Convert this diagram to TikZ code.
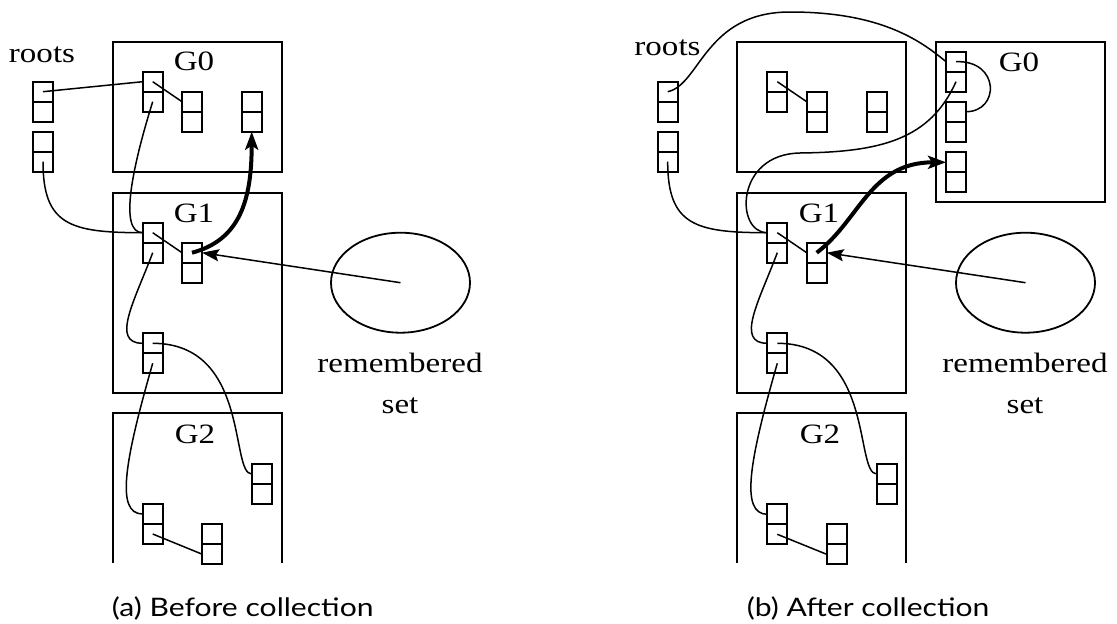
\documentclass[tikz,border=0pt]{standalone}
\usepackage{fontspec}
\setmainfont{Liberation Serif}
\newfontfamily\capfont{Lato}
\usetikzlibrary{arrows.meta,shapes.geometric}
\newcommand\hs[1]{\scalebox{1.18}[1]{#1}}
\newcommand\obj[3]{%
  \node[cell] (#1a) at (#2,#3-10) {};
  \node[cell] (#1b) at (#2,#3+10) {};}
\begin{document}
\begin{tikzpicture}[x=1pt,y=-1pt,
  cell/.style={draw, line width=1.9pt, minimum width=20pt, minimum height=20pt, inner sep=0pt, outer sep=0pt},
  gbox/.style={draw, line width=2pt},
  link/.style={line width=1.5pt},
  bigarrow/.style={line width=4pt, -{Stealth[length=18pt,width=13pt,inset=4pt]}},
  ptr/.style={line width=1.5pt, -{Stealth[length=17pt,width=12pt,inset=3pt]}},
  lbl/.style={font=\fontsize{28}{32}\selectfont, inner sep=0pt, anchor=base},
  captext/.style={font=\capfont\fontsize{25.5}{30}\selectfont, inner sep=0pt, anchor=base west},
  rset/.style={draw, ellipse, line width=1.8pt, minimum width=139pt, minimum height=100pt, inner sep=0pt}]
\useasboundingbox (0,0) rectangle (1117,624);

% ---------------- (a) Before collection ----------------
\draw[gbox] (113,42) rectangle (282,172);
\draw[gbox] (113,193) rectangle (282,393);
\draw[gbox] (113,563) -- (113,413) -- (282,413) -- (282,563);
\node[lbl] (tG0a) at (194,70) {\hs{G0}};
\node[lbl] (tG1a) at (194,222) {\hs{G1}};
\node[lbl] (tG2a) at (195,443) {\hs{G2}};
\node[lbl] (troa) at (42,62) {\hs{roots}};

\obj{rA}{43}{101.7}
\obj{rB}{43}{151.7}
\obj{A}{152.7}{91.7}
\obj{B}{192}{111.7}
\obj{C}{251.7}{111.7}
\obj{D}{152.7}{242.7}
\obj{E}{192}{262.7}
\obj{F}{152.7}{353.3}
\obj{H}{261.7}{484}
\obj{I}{152.7}{524}
\obj{J}{211.7}{544}

\node[rset] (RSa) at (400.5,282.7) {};
\node[lbl] (trema) at (400,372) {\hs{remembered}};
\node[lbl] (tseta) at (400,413) {\hs{set}};

\draw[link] (rAa.center) -- (Aa.west);
\draw[link] (Aa.center) -- (Ba.west);
\draw[link] (Ab.center) .. controls (133,165) and (118,232.7) .. (Da.west);
\draw[link] (rBb.center) .. controls (43,225) and (70,232.7) .. (Da.west);
\draw[link] (Da.center) -- (Ea.west);
\draw[link] (Db.center) .. controls (135,300) and (110,343.3) .. (Fa.west);
\draw[link] (Fa.center) .. controls (250,343.3) and (230,474) .. (Ha.west);
\draw[link] (Fb.center) .. controls (125,460) and (115,514) .. (Ia.west);
\draw[link] (Ib.center) -- (Jb.west);
\draw[bigarrow] (Ea.center) .. controls (240,240) and (251.7,200) .. (Cb.south);
\draw[ptr] (RSa.center) -- (Ea.east);

\node[captext] (capa) at (111.7,616) {\hs{(a) Before collection}};

% ---------------- (b) After collection ----------------
\draw[gbox] (737,42) rectangle (906,172);
\draw[gbox] (936,42) rectangle (1105,202);
\draw[gbox] (737,193) rectangle (906,393);
\draw[gbox] (737,563) -- (737,413) -- (906,413) -- (906,563);
\node[lbl] (tG0b) at (1019,71) {\hs{G0}};
\node[lbl] (tG1b) at (819,222) {\hs{G1}};
\node[lbl] (tG2b) at (820,443) {\hs{G2}};
\node[lbl] (trob) at (667.5,55) {\hs{roots}};

\obj{bRA}{667.7}{101.7}
\obj{bRB}{667.7}{151.7}
\obj{bA}{777.3}{91.7}
\obj{bB}{816.7}{111.7}
\obj{bC}{876.7}{111.7}
\obj{bX}{956}{71.7}
\obj{bY}{956}{121.7}
\obj{bZ}{956}{172.3}
\obj{bD}{777.3}{242.7}
\obj{bE}{816.7}{262.7}
\obj{bF}{777.3}{353.3}
\obj{bH}{886.7}{484}
\obj{bI}{777.3}{524.3}
\obj{bJ}{836.7}{544.3}

\node[rset] (RSb) at (1025.5,282.7) {};
\node[lbl] (tremb) at (1025,372) {\hs{remembered}};
\node[lbl] (tsetb) at (1025,413) {\hs{set}};

\draw[link] (bRAa.center) .. controls (700,85) and (705,12) .. (790,12) .. controls (880,12) and (920,40) .. (bXa.west);
\draw[link] (bXa.center) .. controls (1000,60) and (1000,111.7) .. (bYa.east);
\draw[link] (bXb.center) .. controls (930,140) and (880,152) .. (800,153) .. controls (735,154) and (735,232.7) .. (bDa.west);
\draw[link] (bRBb.center) .. controls (667.7,225) and (695,232.7) .. (bDa.west);
\draw[link] (bAa.center) -- (bBa.west);
\draw[link] (bDa.center) -- (bEa.west);
\draw[link] (bDb.center) .. controls (759.6,300) and (734.6,343.3) .. (bFa.west);
\draw[link] (bFa.center) .. controls (874.6,343.3) and (854.6,474) .. (bHa.west);
\draw[link] (bFb.center) .. controls (749.6,460) and (739.6,514) .. (bIa.west);
\draw[link] (bIb.center) -- (bJb.west);
\draw[bigarrow] (bEa.center) .. controls (860,220) and (870,162.3) .. (bZa.west);
\draw[ptr] (RSb.center) -- (bEa.east);

\node[captext] (capb) at (746.7,616) {\hs{(b) After collection}};
\end{tikzpicture}
\end{document}
